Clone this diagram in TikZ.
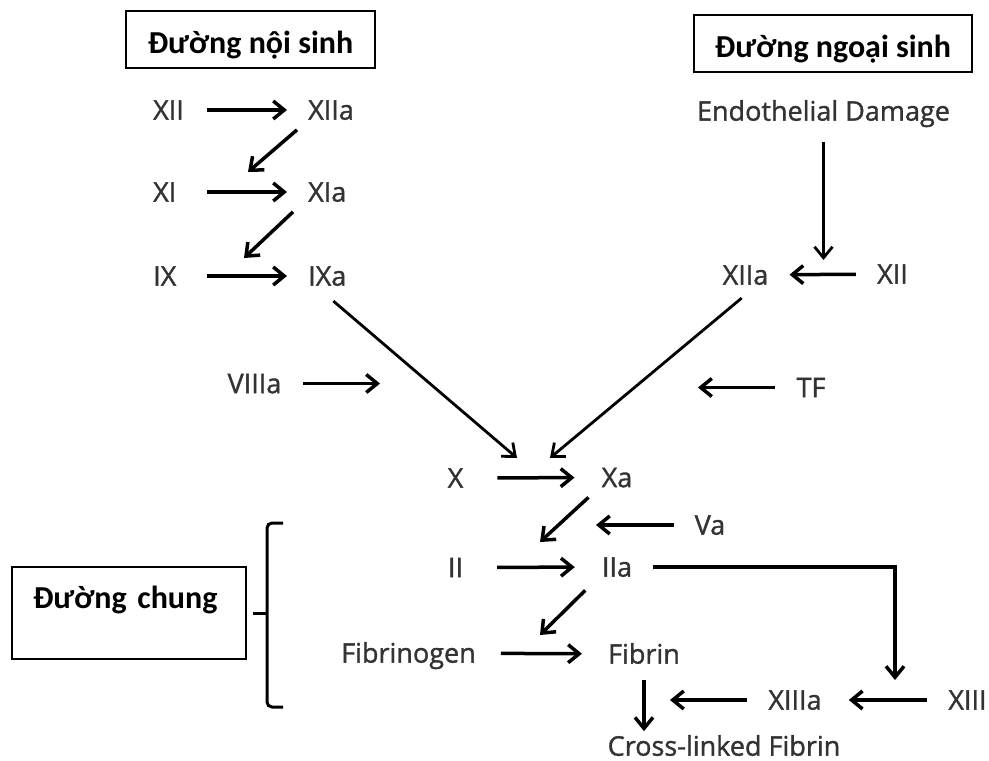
\documentclass[tikz,border=0pt]{standalone}
\usepackage{fontspec}
\setmainfont{Open Sans}
\newfontfamily\lblfont{Open Sans}[FakeBold=1.2]
\newfontfamily\boxfont{Carlito}
\usetikzlibrary{arrows.meta, positioning}

\begin{document}
\begin{tikzpicture}[
  x=1pt, y=-1pt,
  lbl/.style={font=\lblfont\fontsize{27}{32}\selectfont, text=black!80, inner xsep=21pt,
              inner ysep=10pt, text height=19.3pt, text depth=0pt},
  lcol/.style={lbl, anchor=west, text width=33pt, align=left},
  title/.style={draw, line width=1.8pt, font=\boxfont\bfseries\fontsize{32}{38}\selectfont,
                inner ysep=0pt, text height=42pt, text depth=15pt},
  arrow/.style={-{Straight Barb[length=11pt, width=18pt]}, line width=3.5pt},
  longarrow/.style={arrow, line width=2.8pt},
  bracket/.style={line width=3pt, rounded corners=5pt}
]
  \useasboundingbox (0,0) rectangle (989,761);

  % headings
  \node[title, minimum width=249pt] (noi) at (250.5,39.5) {Đường nội sinh};
  \node[title, minimum width=278pt] (ngoai) at (833,43.5) {Đường ngoại sinh};
  \node[title, text height=41pt, text depth=51pt, text width=192pt, align=left,
        inner xsep=21pt] (chung) at (129,613) {Đường chung};

  % intrinsic pathway
  \node[lcol] (xii) at (132,110) {XII};
  \node[lcol] (xi) at (132,192) {XI};
  \node[lcol] (ix) at (132,276) {IX};
  \node[lbl, anchor=west] (xiia) at (287,110) {XIIa};
  \node[lbl, anchor=west] (xia) at (287,192) {XIa};
  \node[lbl, anchor=west] (ixa) at (287,276) {IXa};
  \node[lbl] (viiia) at (254.5,383.5) {VIIIa};

  % extrinsic pathway
  \node[lbl] (endo) at (823.5,111) {Endothelial Damage};
  \node[lbl] (xiiar) at (745.5,275) {XIIa};
  \node[lbl] (xiir) at (892.5,274) {XII};
  \node[lbl] (tf) at (811,387.5) {TF};

  % common pathway
  \node[lbl] (x) at (455.5,478) {X};
  \node[lbl] (xa) at (617,477.5) {Xa};
  \node[lbl] (va) at (710,525) {Va};
  \node[lbl] (ii) at (455.5,567.5) {II};
  \node[lbl] (iia) at (617,567) {IIa};
  \node[lbl] (fbg) at (408.5,653) {Fibrinogen};
  \node[lbl] (fib) at (644,654) {Fibrin};
  \node[lbl] (xiiia) at (795,700) {XIIIa};
  \node[lbl] (xiii) at (967.5,700) {XIII};
  \node[lbl, inner ysep=2pt] (cross) at (724,746) {Cross-linked Fibrin};

  % free arrow ends
  \coordinate (c1) at (248,172);
  \coordinate (c2) at (244,258);
  \coordinate (c3) at (517,458);
  \coordinate (c4) at (380,383.5);
  \coordinate (c5) at (823.5,260);
  \coordinate (c6) at (550,458);
  \coordinate (c7) at (698,387.5);
  \coordinate (c8) at (540,542);
  \coordinate (c9) at (596,525);
  \coordinate (c10) at (895,680);
  \coordinate (c11) at (540,635);
  \coordinate (c12) at (670,700);

  \draw[arrow] (xii) -- (xiia);
  \draw[arrow] ([xshift=10pt]xiia.south west) -- (c1);
  \draw[arrow] (xi) -- (xia);
  \draw[arrow] ([xshift=6pt]xia.south west) -- (c2);
  \draw[arrow] (ix) -- (ixa);
  \draw[longarrow, shorten <=8pt] (ixa.south) -- (c3);
  \draw[arrow] (viiia) -- (c4);

  \draw[longarrow, shorten <=11pt] (endo) -- (c5);
  \draw[arrow] (xiir) -- (xiiar);
  \draw[longarrow, shorten <=5pt] (xiiar.south) -- (c6);
  \draw[arrow] (tf) -- (c7);

  \draw[arrow, shorten <=13pt, shorten >=6pt] (x) -- (xa);
  \draw[arrow] ([xshift=8pt]xa.south west) -- (c8);
  \draw[arrow] (va) -- (c9);
  \draw[arrow, shorten <=13pt, shorten >=6pt] (ii) -- (iia);
  \draw[arrow] (iia.east) -| (c10);
  \draw[arrow, shorten <=5pt] ([xshift=8pt]iia.south west) -- (c11);
  \draw[arrow, shorten <=4pt, shorten >=5pt] (fbg) -- (fib);
  \draw[arrow, shorten >=6pt] (xiii) -- (xiiia);
  \draw[arrow] (xiiia) -- (c12);
  \draw[arrow, shorten <=6pt, shorten >=3pt] (fib.south) -- (fib.south |- cross.north);

  % bracket of the common pathway
  \draw[bracket] (283,523) -- (267,523) -- (267,707) -- (283,707);
  \draw[bracket] ([xshift=6pt]chung.east) -- (267,613);
\end{tikzpicture}
\end{document}
